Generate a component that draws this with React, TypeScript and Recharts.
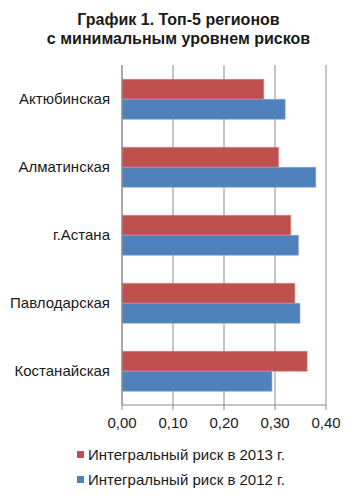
import React from "react";
import { BarChart, Bar, XAxis, YAxis, CartesianGrid } from "recharts";

const regions = ["Актюбинская", "Алматинская", "г.Астана", "Павлодарская", "Костанайская"];
const risk2013 = [0.278, 0.307, 0.331, 0.339, 0.363];
const risk2012 = [0.32, 0.38, 0.346, 0.349, 0.294];
const xTicks = [0, 0.1, 0.2, 0.3, 0.4];
const bandTicks = [0, 1, 2, 3, 4, 5];

const seriesNames = ["Интегральный риск в 2013 г.", "Интегральный риск в 2012 г."];
const seriesColors = ["#c0504d", "#4f81bd"];

const data = regions.map((region, i) => ({
  region,
  r2013: risk2013[i],
  r2012: risk2012[i],
}));

const font = "'Liberation Sans', Arial, sans-serif";

export default function App() {
  return (
    <div style={{ position: "relative", width: 357, height: 500, background: "#fff", fontFamily: font }}>
      <style>{`body{margin:0}`}</style>
      <div
        style={{
          position: "absolute",
          top: 10,
          left: 0,
          width: 357,
          textAlign: "center",
          fontWeight: "bold",
          fontSize: 16,
          lineHeight: "19px",
          color: "#1a1a1a",
        }}
      >
        График 1. Топ-5 регионов
        <br />с минимальным уровнем рисков
      </div>
      <BarChart
        width={357}
        height={500}
        data={data}
        layout="vertical"
        margin={{ top: 65, right: 31, left: 0, bottom: 65 }}
        barCategoryGap="21%"
        barGap={0}
      >
        <CartesianGrid horizontal={false} stroke="#8c8c8c" />
        <XAxis
          type="number"
          domain={[0, 0.4]}
          ticks={xTicks}
          tickFormatter={(v: number) => v.toFixed(2).replace(".", ",")}
          stroke="#8c8c8c"
          tickSize={5}
          tickMargin={7}
          height={30}
          tick={{ fill: "#1a1a1a", fontSize: 15, fontFamily: font }}
        />
        <YAxis
          yAxisId="bands"
          type="number"
          domain={[0, 5]}
          ticks={bandTicks}
          width={0}
          tick={false}
          tickSize={5}
          axisLine={false}
          stroke="#8c8c8c"
        />
        <YAxis
          type="category"
          dataKey="region"
          width={122}
          tickLine={false}
          tickMargin={6}
          stroke="#8c8c8c"
          tick={{ fill: "#1a1a1a", fontSize: 15, fontFamily: font }}
        />
        <Bar dataKey="r2013" name={seriesNames[0]} fill={seriesColors[0]} stroke="#d98886" strokeWidth={0.6} isAnimationActive={false} />
        <Bar dataKey="r2012" name={seriesNames[1]} fill={seriesColors[1]} stroke="#8aaad6" strokeWidth={0.6} isAnimationActive={false} />
      </BarChart>
      <div style={{ position: "absolute", top: 442, left: 77 }}>
        {seriesNames.map((name, i) => (
          <div key={name} style={{ display: "flex", alignItems: "center", height: 25, fontSize: 15, color: "#1a1a1a" }}>
            <span style={{ width: 7, height: 7, background: seriesColors[i], marginRight: 4 }} />
            {name}
          </div>
        ))}
      </div>
    </div>
  );
}
